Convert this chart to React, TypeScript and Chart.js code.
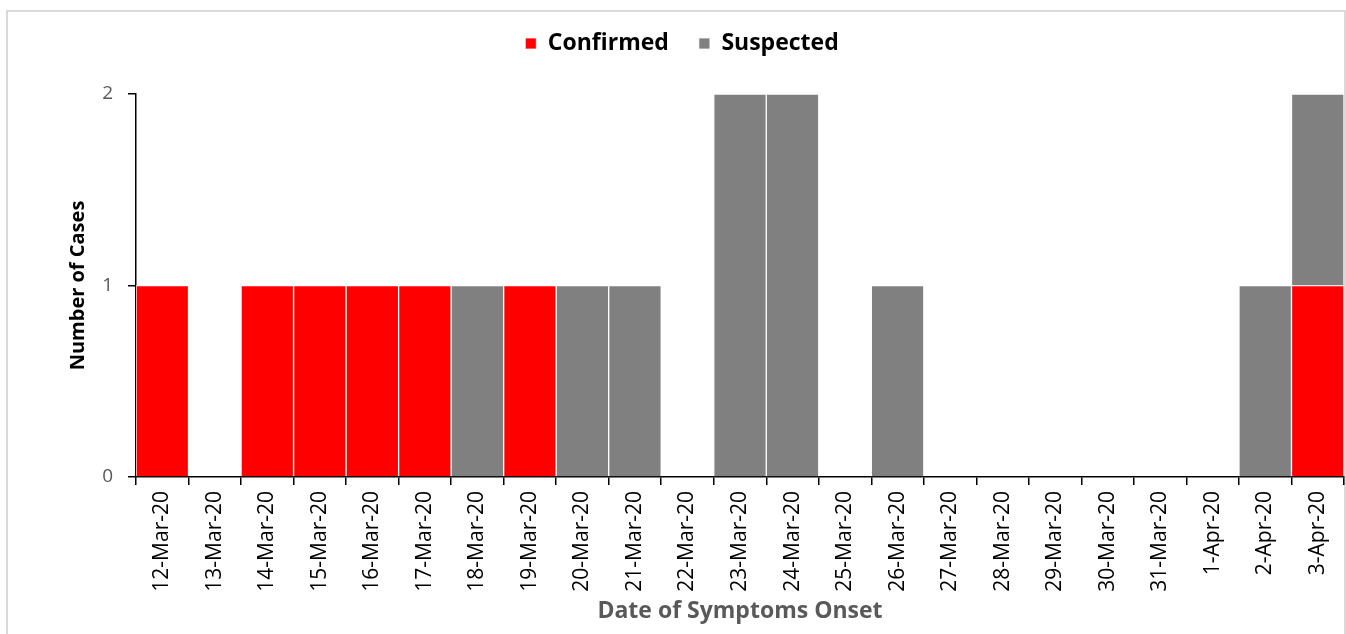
import React, { useEffect, useRef } from "react";
import { Chart, registerables } from "chart.js";

Chart.register(...registerables);

const categories = [
  "12-Mar-20", "13-Mar-20", "14-Mar-20", "15-Mar-20", "16-Mar-20", "17-Mar-20",
  "18-Mar-20", "19-Mar-20", "20-Mar-20", "21-Mar-20", "22-Mar-20", "23-Mar-20",
  "24-Mar-20", "25-Mar-20", "26-Mar-20", "27-Mar-20", "28-Mar-20", "29-Mar-20",
  "30-Mar-20", "31-Mar-20", "1-Apr-20", "2-Apr-20", "3-Apr-20",
];
const confirmed = [1, 0, 1, 1, 1, 1, 0, 1, 0, 0, 0, 0, 0, 0, 0, 0, 0, 0, 0, 0, 0, 0, 1];
const suspected = [0, 0, 0, 0, 0, 0, 1, 0, 1, 1, 0, 2, 2, 0, 1, 0, 0, 0, 0, 0, 0, 1, 1];
const yTicks = [0, 1, 2];

const FONT = "'Open Sans', 'DejaVu Sans', sans-serif";
const CHART_TOP = 94;
const PAD_LEFT = 20;

const legendSpacer = {
  id: "legendSpacer",
  beforeLayout(chart: any) {
    const lg = chart.legend;
    if (lg && !lg.__patched) {
      const orig = lg.fit.bind(lg);
      lg.fit = function () {
        orig();
        const pad = chart.options.layout.padding.top || 0;
        this.height = CHART_TOP - pad;
      };
      lg.__patched = true;
    }
  },
};

export default function App() {
  const ref = useRef<HTMLCanvasElement | null>(null);
  useEffect(() => {
    if (!ref.current) return;
    const chart = new Chart(ref.current, {
      type: "bar",
      data: {
        labels: categories,
        datasets: [
          {
            label: "Confirmed",
            data: confirmed.map((v) => (v === 0 ? null : v)),
            backgroundColor: "#ff0000",
            borderColor: "#ffffff",
            borderWidth: { left: 1, right: 1, top: 1, bottom: 0 },
            borderSkipped: false,
            barPercentage: 1,
            categoryPercentage: 1,
          },
          {
            label: "Suspected",
            data: suspected.map((v) => (v === 0 ? null : v)),
            backgroundColor: "#808080",
            borderColor: "#ffffff",
            borderWidth: { left: 1, right: 1, top: 1, bottom: 0 },
            borderSkipped: false,
            barPercentage: 1,
            categoryPercentage: 1,
          },
        ],
      },
      options: {
        responsive: false,
        animation: false,
        layout: { padding: { top: 2, right: 2, bottom: 0, left: PAD_LEFT } },
        plugins: {
          tooltip: { enabled: false },
          legend: {
            position: "top",
            labels: {
              color: "#000000",
              font: { family: FONT, size: 23, weight: "bold" },
              boxWidth: 11,
              boxHeight: 11,
              padding: 30,
            },
          },
        },
        scales: {
          x: {
            stacked: true,
            afterFit: (s: any) => {
              s.height = 634 - 477;
              s.paddingLeft = 0;
              s.paddingRight = 0;
            },
            grid: {
              display: true,
              drawOnChartArea: false,
              drawTicks: true,
              tickLength: 8,
              color: "#000000",
              lineWidth: 1.5,
              offset: true,
            },
            border: { display: true, color: "#000000", width: 1.5 },
            ticks: {
              color: "#000000",
              font: { family: FONT, size: 21 },
              maxRotation: 90,
              minRotation: 90,
              padding: 6,
              autoSkip: false,
            },
            title: {
              display: true,
              text: "Date of Symptoms Onset",
              color: "#595959",
              font: { family: FONT, size: 23, weight: "bold" },
              padding: { top: 4, bottom: 9 },
            },
          },
          y: {
            stacked: true,
            min: 0,
            max: 2,
            afterFit: (s: any) => {
              s.width = 136 - PAD_LEFT;
            },
            afterBuildTicks: (s: any) => {
              s.ticks = yTicks.map((v) => ({ value: v }));
            },
            grid: {
              display: true,
              drawOnChartArea: false,
              drawTicks: true,
              tickLength: 8,
              color: "#000000",
              lineWidth: 1.5,
            },
            border: { display: true, color: "#000000", width: 1.5 },
            ticks: {
              color: "#595959",
              font: { family: FONT, size: 19 },
              padding: 15,
              stepSize: 1,
            },
            title: {
              display: true,
              text: "Number of Cases",
              color: "#000000",
              font: { family: FONT, size: 20, weight: "bold" },
              padding: { top: 66 - PAD_LEFT, bottom: 0 },
            },
          },
        },
      },
      plugins: [legendSpacer],
    });
    return () => chart.destroy();
  }, []);

  return (
    <div style={{ position: "absolute", left: 0, top: 0, width: 1346, height: 634, background: "#ffffff", overflow: "hidden" }}>
      <div
        style={{
          position: "absolute",
          left: 6,
          top: 10,
          width: 1336,
          height: 640,
          border: "2px solid #d9d9d9",
        }}
      />
      <canvas ref={ref} width={1346} height={634} style={{ position: "absolute", left: 0, top: 0 }} />
    </div>
  );
}
